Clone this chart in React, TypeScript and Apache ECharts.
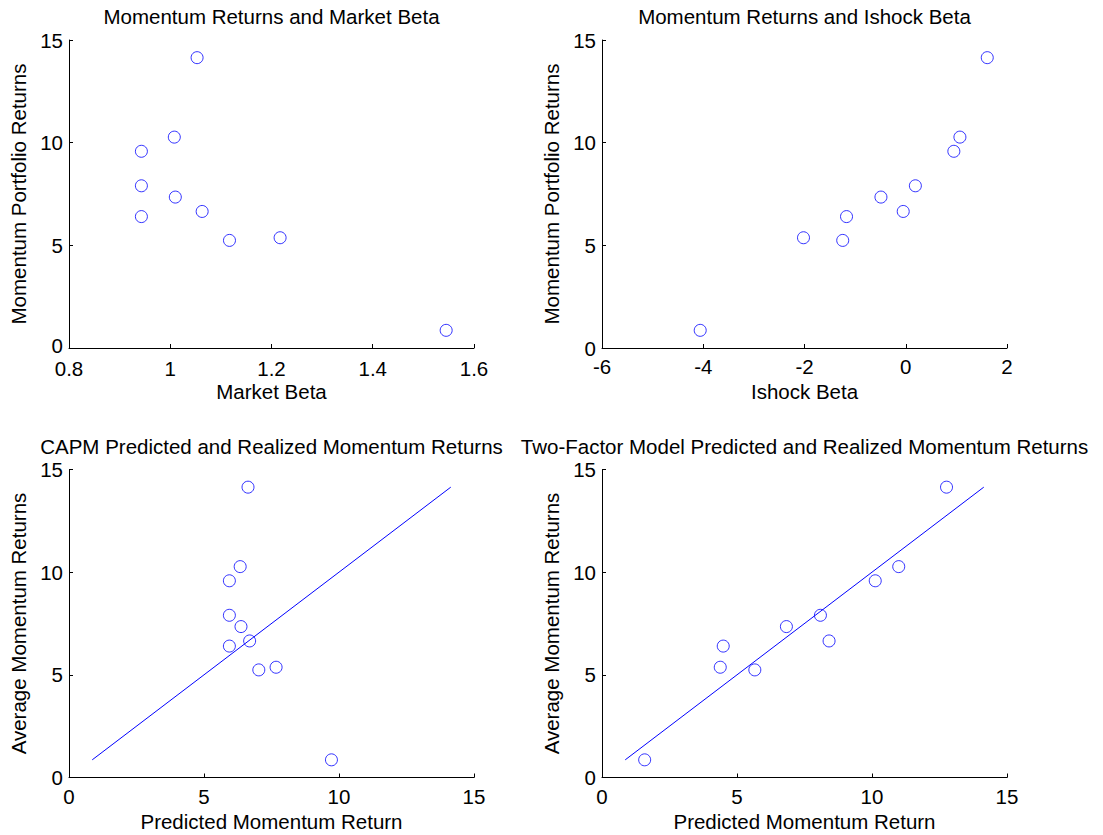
import React, { useEffect, useRef } from "react";
import * as echarts from "echarts";

// Momentum portfolio average returns (same order in all panels)
const momentumReturns = [14.14, 10.27, 9.58, 7.9, 7.35, 6.4, 6.65, 5.24, 5.37, 0.86];
const marketBeta = [1.053, 1.008, 0.943, 0.943, 1.01, 0.943, 1.063, 1.117, 1.217, 1.545];
const ishockBeta = [1.61, 1.07, 0.95, 0.19, -0.49, -1.17, -0.05, -1.245, -2.02, -4.06];
const capmPredicted = [6.63, 6.34, 5.94, 5.94, 6.37, 5.94, 6.69, 7.03, 7.67, 9.72];
const twoFactorPredicted = [12.76, 10.99, 10.12, 8.09, 6.83, 4.49, 8.41, 5.66, 4.38, 1.58];

const titles = [
  "Momentum Returns and Market Beta",
  "Momentum Returns and Ishock Beta",
  "CAPM Predicted and Realized Momentum Returns",
  "Two-Factor Model Predicted and Realized Momentum Returns",
];
const xNames = ["Market Beta", "Ishock Beta", "Predicted Momentum Return", "Predicted Momentum Return"];
const yNames = [
  "Momentum Portfolio Returns",
  "Momentum Portfolio Returns",
  "Average Momentum Returns",
  "Average Momentum Returns",
];
const xRanges = [
  [0.8, 1.6, 0.2],
  [-6, 2, 2],
  [0, 15, 5],
  [0, 15, 5],
];
const yRange = [0, 15, 5];

const FONT = "'Liberation Sans', Arial, Helvetica, sans-serif";
const FS = 20.5;
const BLUE = "#0000ff";

export default function App() {
  const ref = useRef<HTMLDivElement>(null);

  useEffect(() => {
    if (!ref.current) return;
    const chart = echarts.init(ref.current, undefined, { renderer: "svg" });

    const grids = [
      { left: 69, top: 40, width: 405, height: 308 },
      { left: 602, top: 40, width: 405, height: 308 },
      { left: 69, top: 469.5, width: 405, height: 308 },
      { left: 602, top: 469.5, width: 405, height: 308 },
    ];

    const axisCommon = {
      axisLine: { show: true, onZero: false, lineStyle: { color: "#000", width: 1 } },
      axisTick: { show: true, inside: true, length: 4, lineStyle: { color: "#000", width: 1 } },
      splitLine: { show: false },
      axisLabel: { color: "#000", fontSize: FS, fontFamily: FONT },
      nameLocation: "middle" as const,
      nameTextStyle: { color: "#000", fontSize: FS, fontFamily: FONT },
    };

    const xAxis = xRanges.map((r, i) => ({
      type: "value" as const,
      gridIndex: i,
      min: r[0],
      max: r[1],
      interval: r[2],
      name: xNames[i],
      nameGap: 33,
      ...axisCommon,
      axisLabel: { ...axisCommon.axisLabel, margin: i === 0 ? 10 : 8 },
    }));

    const yAxis = [0, 1, 2, 3].map((i) => ({
      type: "value" as const,
      gridIndex: i,
      min: yRange[0],
      max: yRange[1],
      interval: yRange[2],
      name: yNames[i],
      nameGap: 40,
      ...axisCommon,
      axisLabel: {
        ...axisCommon.axisLabel,
        margin: 6,
        lineHeight: 14,
        formatter: (v: number) => (i === 0 && v === 0 ? "{z|0}" : String(v)),
        rich: {
          z: { color: "#000", fontSize: FS, fontFamily: FONT, lineHeight: 14, padding: [0, 0, 6, 0] },
        },
      },
    }));

    const xs = [marketBeta, ishockBeta, capmPredicted, twoFactorPredicted];
    const lo = Math.min(...momentumReturns);
    const hi = Math.max(...momentumReturns);

    const series: any[] = xs.map((arr, i) => ({
      type: "scatter",
      xAxisIndex: i,
      yAxisIndex: i,
      symbol: "circle",
      symbolSize: 12,
      itemStyle: { color: "rgba(0,0,0,0)", borderColor: BLUE, borderWidth: 1 },
      data: arr.map((x, k) => [x, momentumReturns[k]]),
      z: 3,
    }));
    [2, 3].forEach((i) => {
      series.push({
        type: "line",
        xAxisIndex: i,
        yAxisIndex: i,
        showSymbol: false,
        symbol: "none",
        lineStyle: { color: BLUE, width: 1 },
        data: [
          [lo, lo],
          [hi, hi],
        ],
        z: 2,
      });
    });

    const centers = [271.5, 804.5, 271.5, 804.5];
    const titleY = [16, 16, 446, 446];
    const graphic = titles.map((t, i) => ({
      type: "text",
      x: centers[i],
      y: titleY[i],
      style: {
        text: t,
        fill: "#000",
        fontSize: FS,
        fontFamily: FONT,
        textAlign: "center",
        textVerticalAlign: "middle",
      },
    }));

    chart.setOption({
      animation: false,
      backgroundColor: "#fff",
      grid: grids,
      xAxis,
      yAxis,
      series,
      graphic,
    });

    return () => chart.dispose();
  }, []);

  return (
    <div
      ref={ref}
      style={{ position: "fixed", left: 0, top: 0, width: 1103, height: 835, background: "#fff" }}
    />
  );
}
